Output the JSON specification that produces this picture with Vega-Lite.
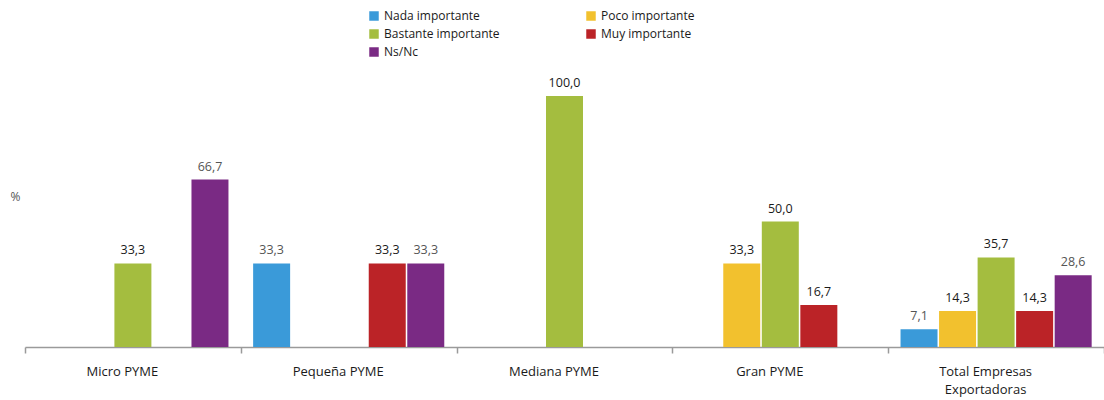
{
  "$schema": "https://vega.github.io/schema/vega-lite/v6.json",
  "width": 1079,
  "height": 251,
  "autosize": {"type": "none"},
  "padding": {"left": 25, "top": 96, "right": 0, "bottom": 53},
  "config": {
    "view": {"stroke": null},
    "font": "Open Sans",
    "locale": {"number": {"decimal": ",", "thousands": ".", "grouping": [3], "currency": ["", " €"]}}
  },
  "data": {
    "values": [
      {"grupo": "Micro PYME", "serie": "Bastante importante", "valor": 33.3},
      {"grupo": "Micro PYME", "serie": "Ns/Nc", "valor": 66.7},
      {"grupo": "Pequeña PYME", "serie": "Nada importante", "valor": 33.3},
      {"grupo": "Pequeña PYME", "serie": "Muy importante", "valor": 33.3},
      {"grupo": "Pequeña PYME", "serie": "Ns/Nc", "valor": 33.3},
      {"grupo": "Mediana PYME", "serie": "Bastante importante", "valor": 100.0},
      {"grupo": "Gran PYME", "serie": "Poco importante", "valor": 33.3},
      {"grupo": "Gran PYME", "serie": "Bastante importante", "valor": 50.0},
      {"grupo": "Gran PYME", "serie": "Muy importante", "valor": 16.7},
      {"grupo": "Total Empresas Exportadoras", "serie": "Nada importante", "valor": 7.1},
      {"grupo": "Total Empresas Exportadoras", "serie": "Poco importante", "valor": 14.3},
      {"grupo": "Total Empresas Exportadoras", "serie": "Bastante importante", "valor": 35.7},
      {"grupo": "Total Empresas Exportadoras", "serie": "Muy importante", "valor": 14.3},
      {"grupo": "Total Empresas Exportadoras", "serie": "Ns/Nc", "valor": 28.6}
    ]
  },
  "encoding": {
    "x": {
      "field": "grupo",
      "type": "nominal",
      "sort": ["Micro PYME", "Pequeña PYME", "Mediana PYME", "Gran PYME", "Total Empresas Exportadoras"],
      "scale": {"paddingInner": 0, "paddingOuter": 0},
      "axis": {
        "title": null,
        "labelAngle": 0,
        "tickBand": "extent",
        "domainColor": "#9a9a9a",
        "domainWidth": 1.5,
        "tickColor": "#9a9a9a",
        "tickWidth": 1.5,
        "tickSize": 6,
        "labelPadding": 12,
        "labelOffset": -11,
        "labelFontSize": 13,
        "labelColor": "#1a1a1a",
        "labelLineHeight": 18,
        "labelExpr": "datum.label == 'Total Empresas Exportadoras' ? ['Total Empresas', 'Exportadoras'] : datum.label"
      }
    },
    "xOffset": {
      "field": "serie",
      "type": "nominal",
      "scale": {
        "domain": ["Nada importante", "Poco importante", "Bastante importante", "Muy importante", "Ns/Nc"],
        "paddingInner": 0.04,
        "paddingOuter": 0.32
      }
    },
    "y": {
      "field": "valor",
      "type": "quantitative",
      "scale": {"domain": [0, 100], "nice": false},
      "axis": {
        "title": "%",
        "titleAngle": 0,
        "titleX": -10,
        "titleY": 100,
        "titleAlign": "center",
        "titleBaseline": "middle",
        "titleFontWeight": "normal",
        "titleFontSize": 12,
        "titleColor": "#555555",
        "domain": false,
        "ticks": false,
        "labels": false,
        "grid": false
      }
    }
  },
  "layer": [
    {
      "mark": {"type": "bar"},
      "encoding": {
        "color": {
          "field": "serie",
          "type": "nominal",
          "scale": {
            "domain": ["Nada importante", "Poco importante", "Bastante importante", "Muy importante", "Ns/Nc"],
            "range": ["#3a9ad9", "#f2c12e", "#a4bd3f", "#bb2327", "#7a2a84"]
          },
          "legend": {
            "title": null,
            "orient": "none",
            "legendX": 343,
            "legendY": -86,
            "columns": 2,
            "direction": "horizontal",
            "columnPadding": 85,
            "rowPadding": 6,
            "symbolType": "square",
            "symbolSize": 90,
            "symbolStrokeWidth": 0,
            "symbolOffset": 0,
            "labelFontSize": 12,
            "labelColor": "#1a1a1a",
            "labelOffset": 4
          }
        }
      }
    },
    {
      "mark": {"type": "text", "baseline": "bottom", "dy": -6, "fontSize": 12.5},
      "encoding": {
        "text": {"field": "valor", "type": "quantitative", "format": ".1f"},
        "color": {
          "condition": {"test": "datum.serie == 'Nada importante' || datum.serie == 'Ns/Nc'", "value": "#555555"},
          "value": "#1a1a1a"
        }
      }
    }
  ]
}
